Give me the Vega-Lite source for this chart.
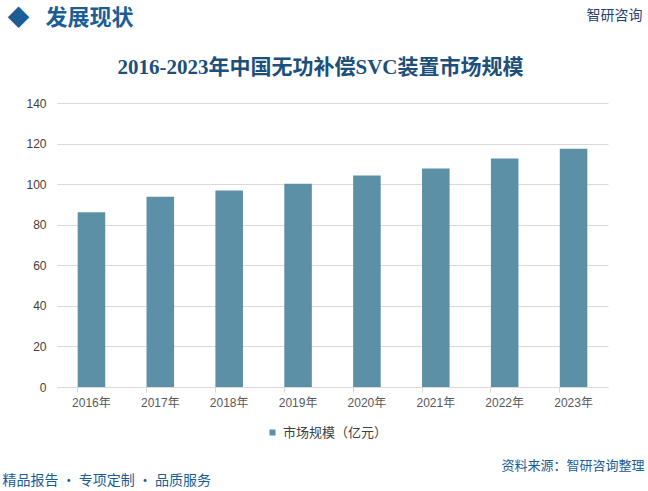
{
  "$schema": "https://vega.github.io/schema/vega-lite/v6.json",
  "autosize": "none",
  "width": 551,
  "height": 284,
  "padding": {"left": 57, "top": 103, "right": 40, "bottom": 104},
  "background": "white",
  "config": {"view": {"stroke": null}, "font": "Liberation Sans, Noto Sans CJK SC"},
  "title": {
    "text": "2016-2023年中国无功补偿SVC装置市场规模",
    "anchor": "middle",
    "frame": "group",
    "dx": -12,
    "offset": -72,
    "font": "Liberation Serif, Noto Sans CJK SC",
    "fontSize": 21,
    "fontWeight": "bold",
    "color": "#1c4f7c"
  },
  "data": {
    "values": [
      {"year": "2016年", "value": 86.1},
      {"year": "2017年", "value": 93.8},
      {"year": "2018年", "value": 96.9},
      {"year": "2019年", "value": 100.2},
      {"year": "2020年", "value": 104.2},
      {"year": "2021年", "value": 107.7},
      {"year": "2022年", "value": 112.6},
      {"year": "2023年", "value": 117.5}
    ]
  },
  "layer": [
    {
      "mark": {"type": "bar", "color": "#5b90a7"},
      "encoding": {
        "x": {
          "field": "year", "type": "nominal", "sort": null,
          "scale": {"paddingInner": 0.6, "paddingOuter": 0.3},
          "axis": {
            "labelAngle": 0, "labelFontSize": 12, "labelColor": "#595959",
            "labelFont": "Liberation Sans, Noto Sans CJK SC",
            "domainColor": "#d9d9d9", "tickColor": "#d9d9d9", "tickSize": 5,
            "labelPadding": 5, "bandPosition": 0,
            "title": "资料来源：智研咨询整理",
            "titleFont": "Noto Sans CJK SC", "titleFontSize": 13, "titleFontWeight": "normal",
            "titleColor": "#1a5c96", "titleAngle": 0, "titleAlign": "right", "titleBaseline": "middle",
            "titleX": 587, "titleY": 78
          }
        },
        "y": {
          "field": "value", "type": "quantitative",
          "scale": {"domain": [0, 140]},
          "axis": {
            "values": [0, 20, 40, 60, 80, 100, 120, 140],
            "domain": false, "ticks": false, "labelPadding": 11,
            "labelFontSize": 12, "labelColor": "#404040",
            "gridColor": "#d9d9d9",
            "title": "◆\u2002 发展现状",
            "titleFont": "Noto Sans CJK SC", "titleFontSize": 22, "titleFontWeight": "bold",
            "titleColor": "#1b5e96", "titleAngle": 0, "titleAlign": "left", "titleBaseline": "middle",
            "titleX": -50, "titleY": -86
          }
        },
        "color": {
          "datum": "市场规模（亿元）",
          "type": "nominal",
          "scale": {"range": ["#5b90a7"]},
          "legend": {
            "title": null, "orient": "none", "legendX": 209, "legendY": 323,
            "symbolType": "square", "symbolSize": 36,
            "labelFontSize": 13, "labelColor": "#404040",
            "labelFont": "Noto Sans CJK SC"
          }
        }
      }
    },
    {
      "mark": {"type": "bar", "opacity": 0},
      "encoding": {
        "x": {
          "field": "year", "type": "nominal", "sort": null,
          "axis": {
            "orient": "top", "labels": false, "ticks": false, "domain": false, "grid": false,
            "title": "智研咨询",
            "titleFont": "Noto Sans CJK SC", "titleFontSize": 14, "titleFontWeight": "normal",
            "titleColor": "#1f3f73", "titleAngle": 0, "titleAlign": "right", "titleBaseline": "middle",
            "titleX": 585, "titleY": -88
          }
        },
        "y": {
          "field": "value", "type": "quantitative",
          "axis": {
            "orient": "right", "labels": false, "ticks": false, "domain": false, "grid": false,
            "title": "精品报告 · 专项定制 · 品质服务",
            "titleFont": "Noto Sans CJK SC", "titleFontSize": 14, "titleFontWeight": "normal",
            "titleColor": "#1a5c96", "titleAngle": 0, "titleAlign": "left", "titleBaseline": "middle",
            "titleX": -606, "titleY": 377
          }
        }
      }
    }
  ],
  "resolve": {"axis": {"x": "independent", "y": "independent"}}
}
